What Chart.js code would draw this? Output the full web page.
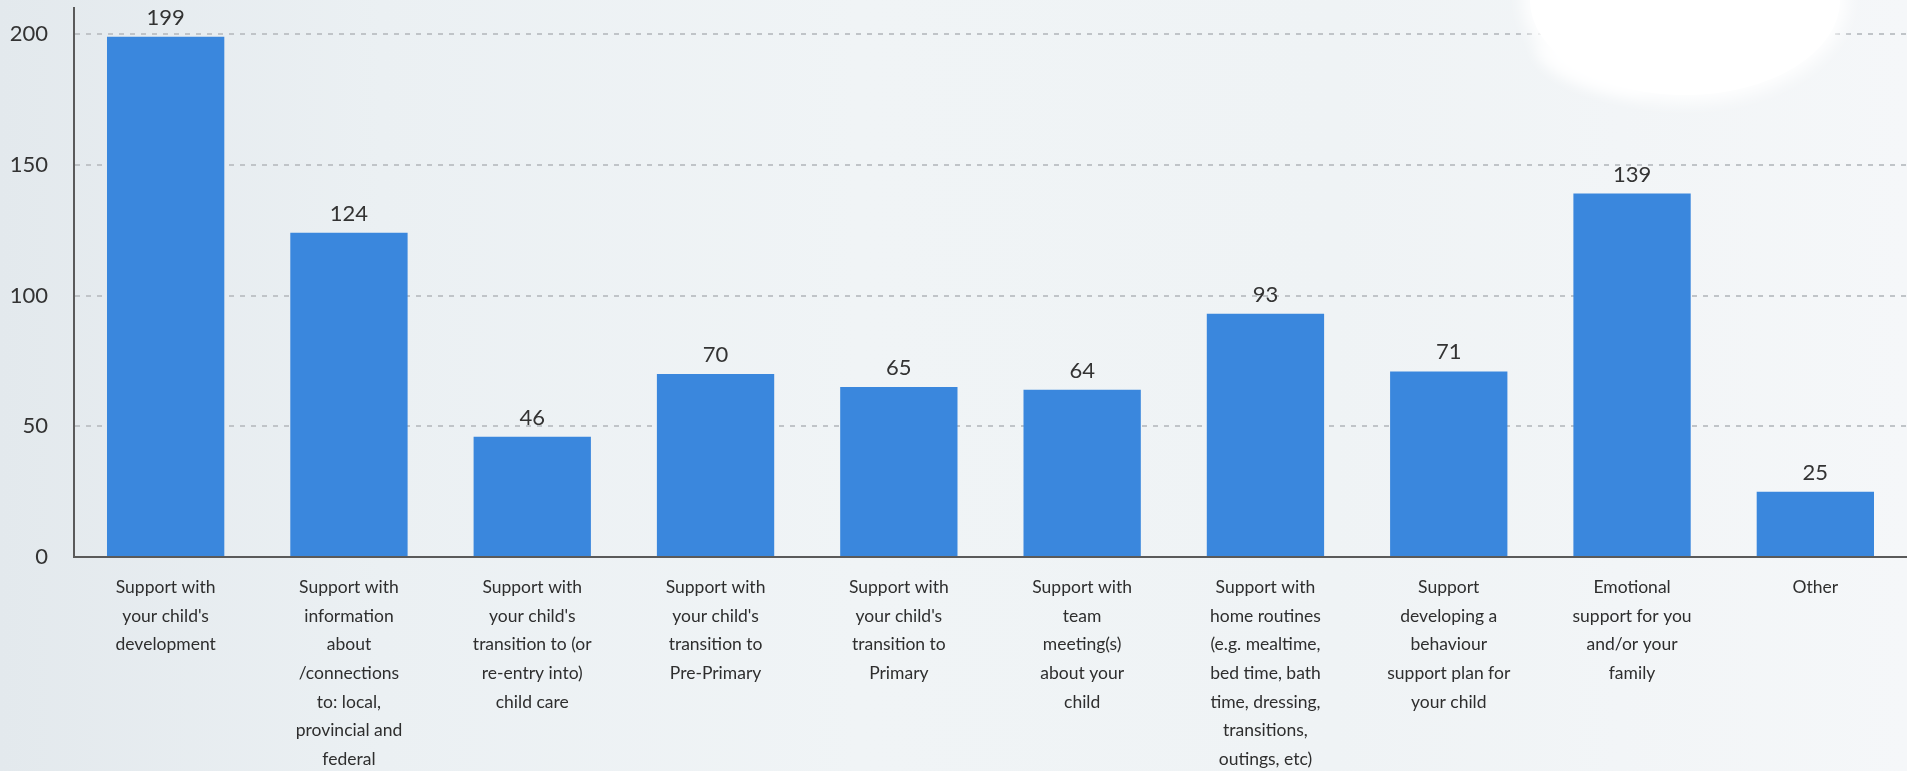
<!DOCTYPE html>
<html>
<head>
<meta charset="utf-8">
<script src="https://cdn.jsdelivr.net/npm/chart.js@4.4.1/dist/chart.umd.min.js"></script>
<style>
  html, body { margin: 0; padding: 0; width: 1907px; height: 771px; overflow: hidden; }
  body {
    background: linear-gradient(to right, #e3e9ed 0%, #ebf0f3 20%, #f0f4f6 45%, #eff3f5 70%, #f5f7f9 100%);
    position: relative;
  }
  #wrap { position: absolute; left: 0; top: 0; width: 1907px; height: 771px; }
  #bubble {
    position: absolute; left: 1530px; top: -95px; width: 310px; height: 190px;
    background: #ffffff; border-radius: 50%;
    box-shadow: 0 0 16px 8px rgba(255,255,255,0.9);
  }
  #tail {
    position: absolute; left: 1535px; top: 45px; width: 110px; height: 50px;
    background: #ffffff; border-radius: 0 0 0 100%;
    filter: blur(7px); opacity: 0.8;
  }
</style>
</head>
<body>
<div id="wrap"><canvas id="c" width="1907" height="771"></canvas></div>
<div id="tail"></div>
<div id="bubble"></div>
<script>
const categories = [
  ["Support with", "your child's", "development"],
  ["Support with", "information", "about", "/connections", "to: local,", "provincial and", "federal"],
  ["Support with", "your child's", "transition to (or", "re-entry into)", "child care"],
  ["Support with", "your child's", "transition to", "Pre-Primary"],
  ["Support with", "your child's", "transition to", "Primary"],
  ["Support with", "team", "meeting(s)", "about your", "child"],
  ["Support with", "home routines", "(e.g. mealtime,", "bed time, bath", "time, dressing,", "transitions,", "outings, etc)"],
  ["Support", "developing a", "behaviour", "support plan for", "your child"],
  ["Emotional", "support for you", "and/or your", "family"],
  ["Other"]
];
const values = [199, 124, 46, 70, 65, 64, 93, 71, 139, 25];
const yTicks = [0, 50, 100, 150, 200];

const valueLabels = {
  id: 'valueLabels',
  afterDatasetsDraw(chart) {
    const ctx = chart.ctx;
    const meta = chart.getDatasetMeta(0);
    ctx.save();
    ctx.font = '22px Lato';
    ctx.fillStyle = '#333333';
    ctx.textAlign = 'center';
    ctx.textBaseline = 'alphabetic';
    meta.data.forEach((bar, i) => {
      ctx.fillText(String(chart.data.datasets[0].data[i]), bar.x, bar.y - 12);
    });
    ctx.restore();
  }
};

new Chart(document.getElementById('c'), {
  type: 'bar',
  data: {
    labels: categories,
    datasets: [{
      data: values,
      backgroundColor: '#3a87dd',
      borderWidth: 0,
      categoryPercentage: 0.8,
      barPercentage: 0.8
    }]
  },
  options: {
    responsive: false,
    animation: false,
    devicePixelRatio: 1,
    layout: { padding: { top: 8, right: 0, left: 0, bottom: 0 } },
    plugins: { legend: { display: false }, tooltip: { enabled: false } },
    scales: {
      x: {
        grid: { display: false, drawTicks: false },
        border: { display: true, color: '#5a5a5a', width: 2 },
        ticks: {
          autoSkip: false, maxRotation: 0, minRotation: 0,
          padding: 16,
          color: '#2e2e2e',
          font: { family: 'Lato', size: 17.5, lineHeight: 1.64 }
        },
        afterFit(s) { s.height = 214; }
      },
      y: {
        min: 0, max: 210,
        grid: {
          color: (c) => c.tick.value === 0 ? 'rgba(0,0,0,0)' : '#c0c4c8',
          lineWidth: 2, drawTicks: true, tickLength: 26, tickColor: 'rgba(0,0,0,0)'
        },
        border: { display: true, color: '#5a5a5a', width: 2, dash: [5, 6] },
        ticks: {
          stepSize: 50, includeBounds: false, padding: 0,
          color: '#333333',
          font: { family: 'Lato', size: 22, lineHeight: 0.7 },
          callback: (v) => yTicks.includes(v) ? String(v) : ''
        },
        afterFit(s) { s.width = 74; }
      }
    }
  },
  plugins: [valueLabels]
});
</script>
</body>
</html>
